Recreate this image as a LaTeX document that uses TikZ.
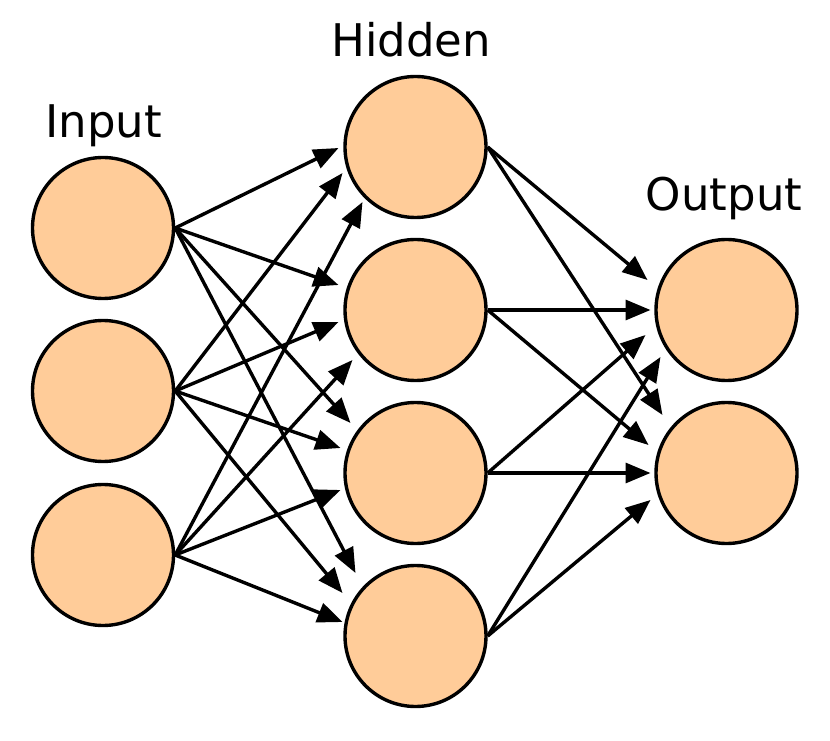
\documentclass[tikz,border=0pt]{standalone}
\usepackage{fontspec}
\setmainfont{DejaVu Sans}
\usetikzlibrary{arrows.meta,calc}

\definecolor{neuron}{HTML}{FFCC99}

\begin{document}
\begin{tikzpicture}[x=1pt,y=1pt]
        \tikzstyle{unit}=[circle, draw=black, line width=3.4pt, fill=neuron, minimum size=141pt, inner sep=0pt]
        \tikzstyle{layer}=[font=\fontsize{45}{54}\selectfont, anchor=base, inner sep=0pt]
        \tikzstyle{link}=[line width=3.4pt, -{Triangle[length=25pt,width=20pt]}]

        \useasboundingbox (0,0) rectangle (830,740);

        % layers
        \node (i1) [unit] at (103,512) {};
        \node (i2) [unit] at (103,349) {};
        \node (i3) [unit] at (103,185) {};

        \node (h1) [unit] at (415.5,593) {};
        \node (h2) [unit] at (415.5,430) {};
        \node (h3) [unit] at (415.5,267) {};
        \node (h4) [unit] at (415.5,104) {};

        \node (o1) [unit] at (726.5,430) {};
        \node (o2) [unit] at (726.5,267) {};

        \node (lin)  [layer] at (103.5,602) {Input};
        \node (lhid) [layer] at (411,683)   {Hidden};
        \node (lout) [layer] at (724,529)   {Output};

        % connections, tips given from the target's centre
        \foreach \s/\t/\dx/\dy in {i1/h1/-77/-1, i2/h1/-73/-26, i3/h1/-53/-55,
                                   i1/h2/-77/25, i2/h2/-77/-12, i3/h2/-63/-50,
                                   i1/h3/-65/50, i2/h3/-75/25, i3/h3/-75/-17,
                                   i1/h4/-60/63, i2/h4/-73/43, i3/h4/-73/14,
                                   h1/o1/-79/30, h2/o1/-76/0, h3/o1/-81/-25, h4/o1/-66/-47,
                                   h1/o2/-64/58, h2/o2/-78/28, h3/o2/-76/0, h4/o2/-76/-27}
            \draw[link] (\s.east) -- ($(\t)+(\dx,\dy)$);

    \end{tikzpicture}
\end{document}
